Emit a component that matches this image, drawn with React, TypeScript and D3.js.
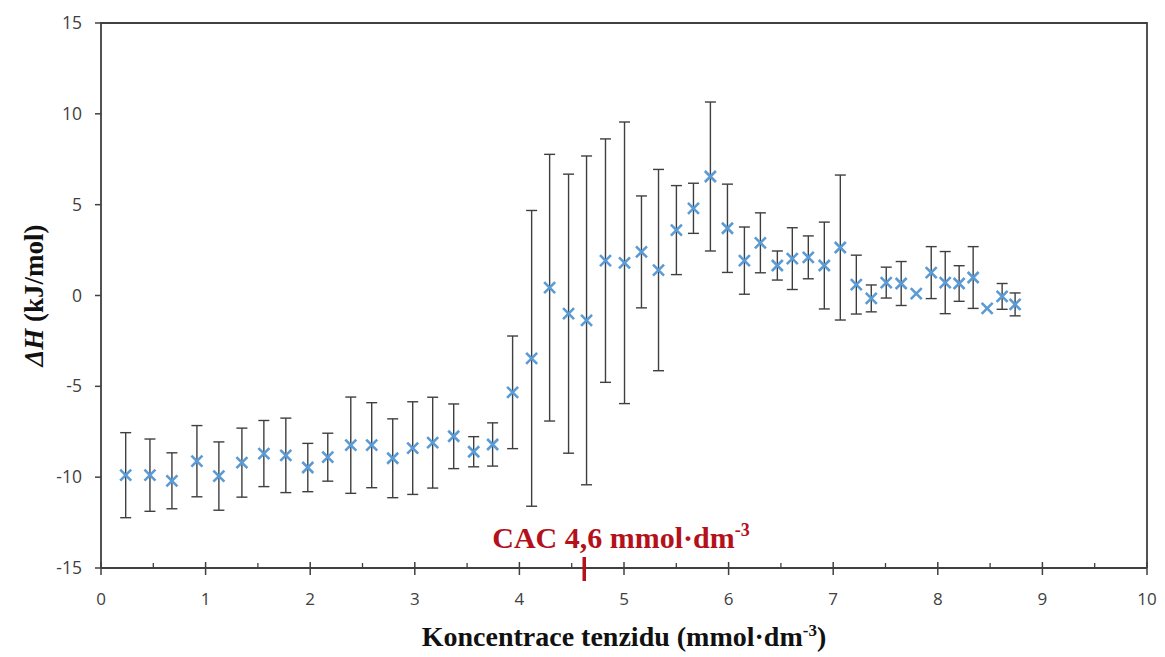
import React from "react";
import * as d3 from "d3";

const concentration = [
  0.236, 0.468, 0.678, 0.917, 1.127, 1.347, 1.557, 1.767, 1.977, 2.168,
  2.388, 2.588, 2.789, 2.98, 3.171, 3.372, 3.563, 3.744, 3.935, 4.117,
  4.289, 4.47, 4.642, 4.823, 5.005, 5.167, 5.33, 5.501, 5.664, 5.826,
  5.989, 6.151, 6.304, 6.466, 6.609, 6.762, 6.915, 7.068, 7.221, 7.364,
  7.507, 7.65, 7.794, 7.937, 8.071, 8.204, 8.338, 8.472, 8.615, 8.739,
];
const deltaH = [
  -9.89, -9.89, -10.2, -9.12, -9.94, -9.2, -8.7, -8.8, -9.47, -8.9,
  -8.24, -8.24, -8.96, -8.4, -8.1, -7.75, -8.6, -8.2, -5.33, -3.46,
  0.43, -1.0, -1.37, 1.92, 1.8, 2.4, 1.4, 3.6, 4.8, 6.55,
  3.7, 1.92, 2.9, 1.65, 2.03, 2.1, 1.65, 2.64, 0.6, -0.16,
  0.71, 0.66, 0.1, 1.26, 0.71, 0.66, 0.99, -0.71, -0.05, -0.49,
];
const errorH = [
  2.34, 1.99, 1.54, 1.96, 1.88, 1.9, 1.82, 2.05, 1.33, 1.32,
  2.65, 2.34, 2.17, 2.55, 2.5, 1.78, 0.83, 1.19, 3.1, 8.14,
  7.34, 7.68, 9.05, 6.7, 7.75, 3.08, 5.54, 2.45, 1.38, 4.1,
  2.43, 1.85, 1.65, 0.8, 1.7, 1.18, 2.39, 3.99, 1.62, 0.74,
  0.85, 1.21, 0, 1.43, 1.71, 0.98, 1.7, 0, 0.71, 0.63,
];
const xTicks = [0, 1, 2, 3, 4, 5, 6, 7, 8, 9, 10];
const xMinorTicks = [0.5, 1.5, 2.5, 3.5, 4.5, 5.5, 6.5, 7.5, 8.5, 9.5];
const yTicks = [-15, -10, -5, 0, 5, 10, 15];
const cacPosition = 4.62;
const cacLabel = "CAC 4,6 mmol·dm";

const W = 1165;
const H = 657;
const M = { left: 101, right: 1147, top: 23, bottom: 568 };

export default function App() {
  const x = d3.scaleLinear().domain([0, 10]).range([M.left, M.right]);
  const y = d3.scaleLinear().domain([-15, 15]).range([M.bottom, M.top]);
  const axisColor = "#404040";
  const tickFont = "'Open Sans', 'Liberation Sans', sans-serif";
  const serif = "'Liberation Serif', 'DejaVu Serif', serif";
  const ms = 5.5;
  const cap = 5.5;

  return (
    <svg
      width={W}
      height={H}
      style={{ position: "absolute", left: 0, top: 0, background: "#fff" }}
    >
      <rect x={0} y={0} width={W} height={H} fill="#fff" />
      {/* frame */}
      <path
        d={`M${M.left},${M.bottom} V${M.top} H${M.right} V${M.bottom}`}
        fill="none"
        stroke={axisColor}
        strokeWidth={1.8}
      />
      <line x1={M.left} x2={M.right} y1={M.bottom} y2={M.bottom} stroke={axisColor} strokeWidth={1.8} />
      {/* x ticks */}
      {xTicks.map((t) => (
        <g key={"xt" + t}>
          <line x1={x(t)} x2={x(t)} y1={M.bottom - 6} y2={M.bottom + 7} stroke={axisColor} strokeWidth={1.5} />
          <text
            x={x(t)}
            y={605}
            textAnchor="middle"
            fontFamily={tickFont}
            fontSize={17}
            fill="#404040"
          >
            {t}
          </text>
        </g>
      ))}
      {xMinorTicks.map((t) => (
        <line key={"xm" + t} x1={x(t)} x2={x(t)} y1={M.bottom - 5} y2={M.bottom} stroke={axisColor} strokeWidth={1.3} />
      ))}
      {/* y ticks */}
      {yTicks.map((t) => (
        <g key={"yt" + t}>
          <line x1={M.left - 6} x2={M.left} y1={y(t)} y2={y(t)} stroke={axisColor} strokeWidth={1.5} />
          <text
            x={82}
            y={y(t) + 6}
            textAnchor="end"
            fontFamily={tickFont}
            fontSize={17.5}
            fill="#404040"
          >
            {t}
          </text>
        </g>
      ))}
      {/* error bars */}
      {concentration.map((c, i) => {
        const e = errorH[i];
        if (!e) return null;
        const cx = x(c);
        const yt = y(deltaH[i] + e);
        const yb = y(deltaH[i] - e);
        return (
          <g key={"eb" + i} stroke="#3f3f3f" strokeWidth={1.4}>
            <line x1={cx} x2={cx} y1={yt} y2={yb} />
            <line x1={cx - cap} x2={cx + cap} y1={yt} y2={yt} />
            <line x1={cx - cap} x2={cx + cap} y1={yb} y2={yb} />
          </g>
        );
      })}
      {/* markers */}
      {concentration.map((c, i) => {
        const cx = x(c);
        const cy = y(deltaH[i]);
        return (
          <path
            key={"m" + i}
            d={`M${cx - ms},${cy - ms} L${cx + ms},${cy + ms} M${cx - ms},${cy + ms} L${cx + ms},${cy - ms}`}
            stroke="#5B9BD5"
            strokeWidth={2.6}
            fill="none"
          />
        );
      })}
      {/* CAC marker */}
      <line
        x1={x(cacPosition)}
        x2={x(cacPosition)}
        y1={557}
        y2={581}
        stroke="#B4111B"
        strokeWidth={3.5}
      />
      <text
        x={621}
        y={548}
        textAnchor="middle"
        fontFamily={serif}
        fontWeight="bold"
        fontSize={30}
        fill="#B4111B"
      >
        {cacLabel}
        <tspan fontSize={18} dy={-12}>-3</tspan>
      </text>
      {/* x axis title */}
      <text
        x={(M.left + M.right) / 2}
        y={646}
        textAnchor="middle"
        fontFamily={serif}
        fontWeight="bold"
        fontSize={28}
        fill="#111"
      >
        Koncentrace tenzidu (mmol·dm
        <tspan fontSize={17} dy={-10}>-3</tspan>
        <tspan dy={10}>)</tspan>
      </text>
      {/* y axis title */}
      <text
        transform={`translate(43, ${(M.top + M.bottom) / 2}) rotate(-90)`}
        textAnchor="middle"
        fontFamily={serif}
        fontWeight="bold"
        fontSize={27}
        fill="#111"
      >
        <tspan fontStyle="italic">ΔH</tspan> (kJ/mol)
      </text>
    </svg>
  );
}
